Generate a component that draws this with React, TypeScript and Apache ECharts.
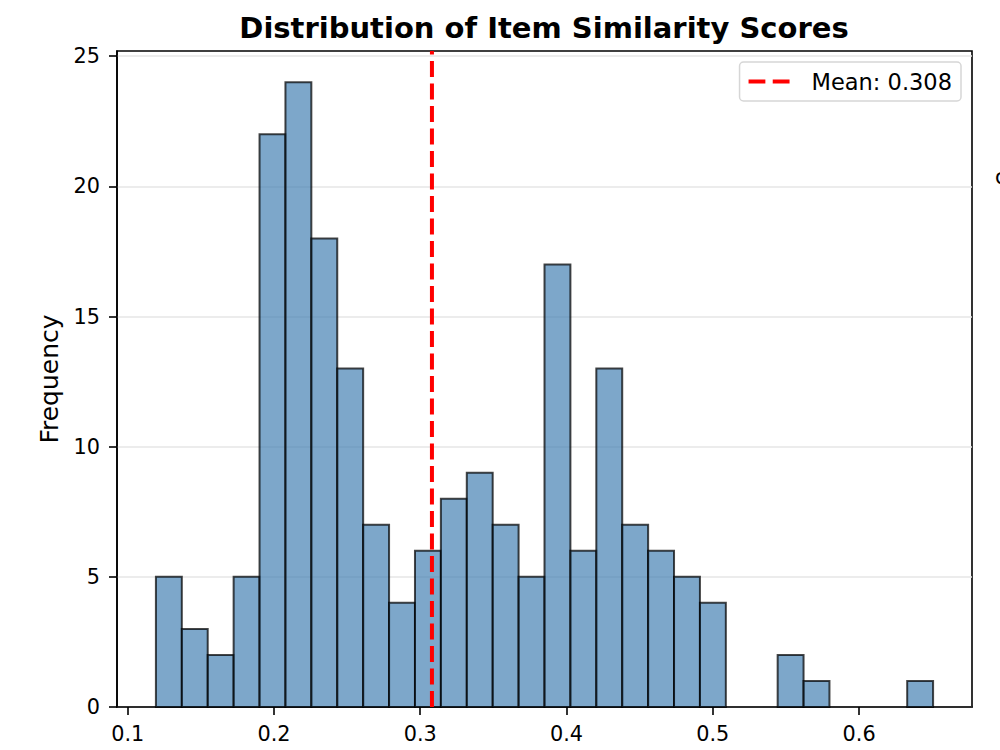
import React, { useEffect, useRef } from "react";
import * as echarts from "echarts";

const titleText = "Distribution of Item Similarity Scores";
const yName = "Frequency";
const binMin = 0.1193;
const binMax = 0.6506;
const counts = [5, 3, 2, 5, 22, 24, 18, 13, 7, 4, 6, 8, 9, 7, 5, 17, 6, 13, 7, 6, 5, 4, 0, 0, 2, 1, 0, 0, 0, 1];
const meanValue = 0.308;
const meanLabel = "Mean: 0.308";
const xTicks = [0.1, 0.2, 0.3, 0.4, 0.5, 0.6];
const yTicks = [0, 5, 10, 15, 20, 25];
const xMin = 0.0927;
const xMax = 0.6772;
const yMax = 25.2;

const FONT = "DejaVu Sans";

export default function App() {
  const ref = useRef<HTMLDivElement>(null);
  useEffect(() => {
    if (!ref.current) return;
    const chart = echarts.init(ref.current, undefined, { renderer: "svg" });
    const w = (binMax - binMin) / counts.length;
    const data = counts.map((c, i) => [binMin + i * w, binMin + (i + 1) * w, c]);
    chart.setOption({
      animation: false,
      backgroundColor: "#fff",
      title: {
        text: titleText,
        left: 539,
        textAlign: "center",
        top: 8,
        textStyle: { fontFamily: FONT, fontWeight: "bold", fontSize: 29, color: "#000" },
      },
      grid: {
        left: 117,
        right: 28,
        top: 51,
        bottom: 43,
        show: true,
        borderColor: "#000",
        borderWidth: 1.6,
        backgroundColor: "transparent",
      },
      legend: {
        right: 39,
        top: 62,
        orient: "vertical",
        padding: [8, 9, 8, 9],
        borderColor: "#d6d6d6",
        borderWidth: 1.5,
        borderRadius: 4,
        itemWidth: 41,
        itemHeight: 5,
        itemGap: 10,
        textStyle: { fontFamily: FONT, fontSize: 22.5, color: "#000", padding: [0, 0, 0, 17] },
        data: [
          {
            name: meanLabel,
            icon: "path://M0,0 L16,0 L16,4 L0,4 Z M23,0 L39,0 L39,4 L23,4 Z",
            itemStyle: { color: "#ff0000" },
          },
        ],
      },
      xAxis: {
        type: "value",
        min: xMin,
        max: xMax,
        axisLine: { show: true, lineStyle: { color: "#000", width: 1.6 } },
        axisTick: { show: true, length: 8, customValues: xTicks, lineStyle: { color: "#000", width: 1.6 } },
        axisLabel: {
          customValues: xTicks,
          fontFamily: FONT,
          fontSize: 20.8,
          color: "#000",
          margin: 16,
          formatter: (v: number) => v.toFixed(1),
        },
        splitLine: { show: false },
      },
      yAxis: {
        type: "value",
        min: 0,
        max: yMax,
        name: yName,
        nameLocation: "middle",
        nameGap: 55,
        nameTextStyle: { fontFamily: FONT, fontSize: 25, color: "#000" },
        axisLine: { show: true, lineStyle: { color: "#000", width: 1.6 } },
        axisTick: { show: true, length: 8, customValues: yTicks, lineStyle: { color: "#000", width: 1.6 } },
        axisLabel: {
          customValues: yTicks,
          fontFamily: FONT,
          fontSize: 20.8,
          color: "#000",
          margin: 17,
        },
        splitLine: { show: true, lineStyle: { color: "#e6e6e6", width: 1.5 } },
      },
      series: [
        {
          type: "custom",
          name: "hist",
          data,
          encode: { x: [0, 1], y: 2 },
          renderItem: (params: any, api: any) => {
            const lo = api.value(0);
            const hi = api.value(1);
            const c = api.value(2);
            if (!c) return null;
            const p1 = api.coord([lo, c]);
            const p2 = api.coord([hi, 0]);
            return {
              type: "rect",
              shape: { x: p1[0], y: p1[1], width: p2[0] - p1[0], height: p2[1] - p1[1] },
              style: { fill: "rgba(70,130,180,0.7)", stroke: "rgba(0,0,0,0.72)", lineWidth: 2 },
            };
          },
          z: 2,
        },
        {
          type: "line",
          name: meanLabel,
          symbol: "none",
          data: [
            [meanValue, 0],
            [meanValue, yMax],
          ],
          lineStyle: { color: "#ff0000", width: 4, type: [16, 6.5] },
          itemStyle: { color: "#ff0000" },
          z: 5,
        },
      ],
      graphic: [
        {
          type: "text",
          left: 995,
          top: 166,
          style: { text: "c", font: "20.8px DejaVu Sans", fill: "#000" },
        },
      ],
    });
    return () => chart.dispose();
  }, []);
  return <div ref={ref} style={{ width: 1000, height: 750, position: "absolute", left: 0, top: 0 }} />;
}
